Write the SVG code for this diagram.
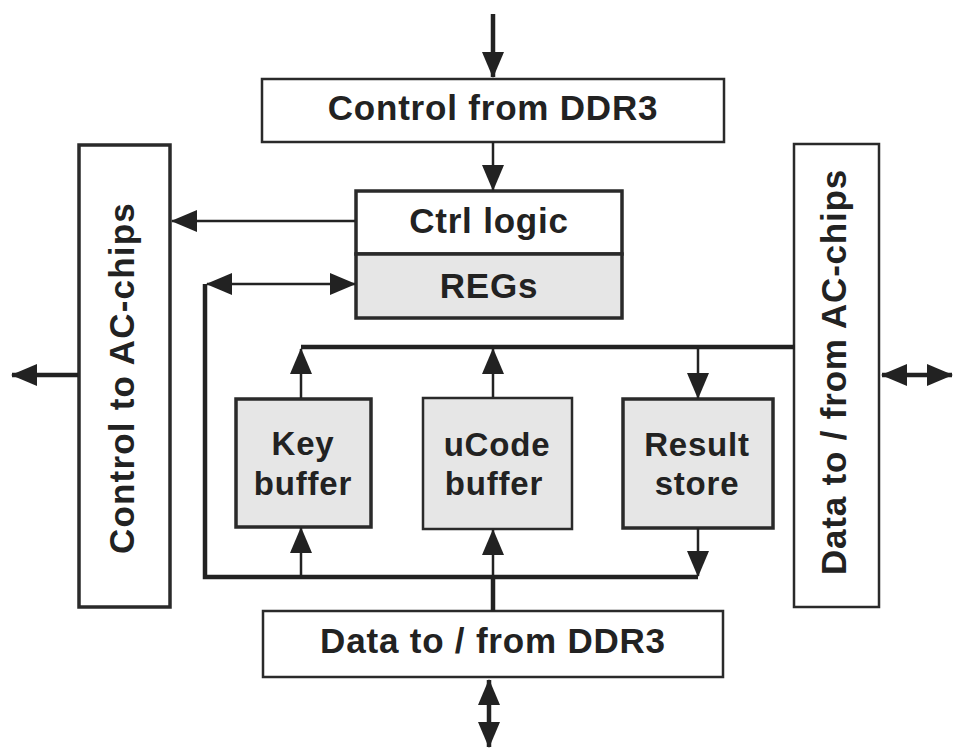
<svg xmlns="http://www.w3.org/2000/svg" width="954" height="749" viewBox="0 0 954 749">
  <style>
    .box { fill: #ffffff; stroke: #2a2a2a; stroke-width: 2.5; }
    .box.gray { fill: #e6e6e6; }
    .box.thick { stroke-width: 3.5; }
    .lbl { font-family: "Liberation Sans", Arial, Helvetica, sans-serif; font-weight: bold; font-size: 35px; fill: #222222; letter-spacing: 0.8px; text-anchor: middle; }
    .lbl.sm { font-size: 33px; }
    .wire { fill: none; stroke: #222222; stroke-width: 2.5; }
    .bus { fill: none; stroke: #222222; stroke-width: 4.5; }
  </style>
  <defs>
    <marker id="ah" markerUnits="userSpaceOnUse" viewBox="0 0 26 22" refX="25" refY="11" markerWidth="26" markerHeight="22" orient="auto-start-reverse">
      <path d="M0,0 L26,11 L0,22 Z" fill="#222222"/>
    </marker>
  </defs>

  <!-- boxes -->
  <g id="control-from-ddr3">
    <rect class="box" x="262" y="79" width="462" height="63"/>
    <text class="lbl" x="493" y="120">Control from DDR3</text>
  </g>
  <g id="ctrl-logic">
    <rect class="box thick" x="356" y="191" width="266" height="63"/>
    <text class="lbl" x="489" y="233">Ctrl logic</text>
  </g>
  <g id="regs">
    <rect class="box gray thick" x="356" y="254" width="266" height="64"/>
    <text class="lbl" x="489" y="298">REGs</text>
  </g>
  <g id="control-to-ac-chips">
    <rect class="box thick" x="79" y="145" width="91" height="462"/>
    <text class="lbl" style="letter-spacing:1.2px" transform="translate(134,378) rotate(-90)">Control to AC-chips</text>
  </g>
  <g id="data-to-from-ac-chips">
    <rect class="box" x="794" y="144" width="85" height="463"/>
    <text class="lbl" transform="translate(846,372) rotate(-90)">Data to / from AC-chips</text>
  </g>
  <g id="key-buffer">
    <rect class="box gray thick" x="236" y="399" width="135" height="128"/>
    <text class="lbl sm" x="303" y="455">Key</text>
    <text class="lbl sm" x="303" y="495">buffer</text>
  </g>
  <g id="ucode-buffer">
    <rect class="box gray" x="423" y="398" width="149" height="131"/>
    <text class="lbl sm" x="497" y="456">uCode</text>
    <text class="lbl sm" x="494" y="495">buffer</text>
  </g>
  <g id="result-store">
    <rect class="box gray thick" x="623" y="399" width="150" height="129"/>
    <text class="lbl sm" x="697" y="456">Result</text>
    <text class="lbl sm" x="697" y="495">store</text>
  </g>
  <g id="data-to-from-ddr3">
    <rect class="box" x="263" y="611" width="460" height="66"/>
    <text class="lbl" x="493" y="653">Data to / from DDR3</text>
  </g>

  <!-- connectors -->
  <g id="connectors">
    <line class="bus" x1="493" y1="14" x2="493" y2="77" marker-end="url(#ah)"/>
    <line class="wire" x1="493" y1="142" x2="493" y2="190" marker-end="url(#ah)"/>
    <line class="wire" x1="355" y1="221" x2="172" y2="221" marker-end="url(#ah)"/>
    <line class="bus" x1="78" y1="375" x2="12" y2="375" marker-end="url(#ah)"/>
    <line class="wire" x1="207" y1="284" x2="355" y2="284" marker-start="url(#ah)" marker-end="url(#ah)"/>
    <path class="bus" d="M205,284 V577 H698"/>
    <line class="bus" x1="301" y1="347" x2="795" y2="347"/>
    <line class="wire" x1="301" y1="398" x2="301" y2="349" marker-end="url(#ah)"/>
    <line class="wire" x1="493" y1="397" x2="493" y2="349" marker-end="url(#ah)"/>
    <line class="wire" x1="698" y1="347" x2="698" y2="398" marker-end="url(#ah)"/>
    <line class="wire" x1="301" y1="577" x2="301" y2="528" marker-end="url(#ah)"/>
    <line class="bus" x1="493" y1="611" x2="493" y2="577"/>
    <line class="wire" x1="493" y1="577" x2="493" y2="530" marker-end="url(#ah)"/>
    <line class="wire" x1="698" y1="528" x2="698" y2="576" marker-end="url(#ah)"/>
    <line class="bus" x1="489" y1="680" x2="489" y2="747" marker-start="url(#ah)" marker-end="url(#ah)"/>
    <line class="bus" x1="882" y1="375" x2="952" y2="375" marker-start="url(#ah)" marker-end="url(#ah)"/>
  </g>
</svg>
